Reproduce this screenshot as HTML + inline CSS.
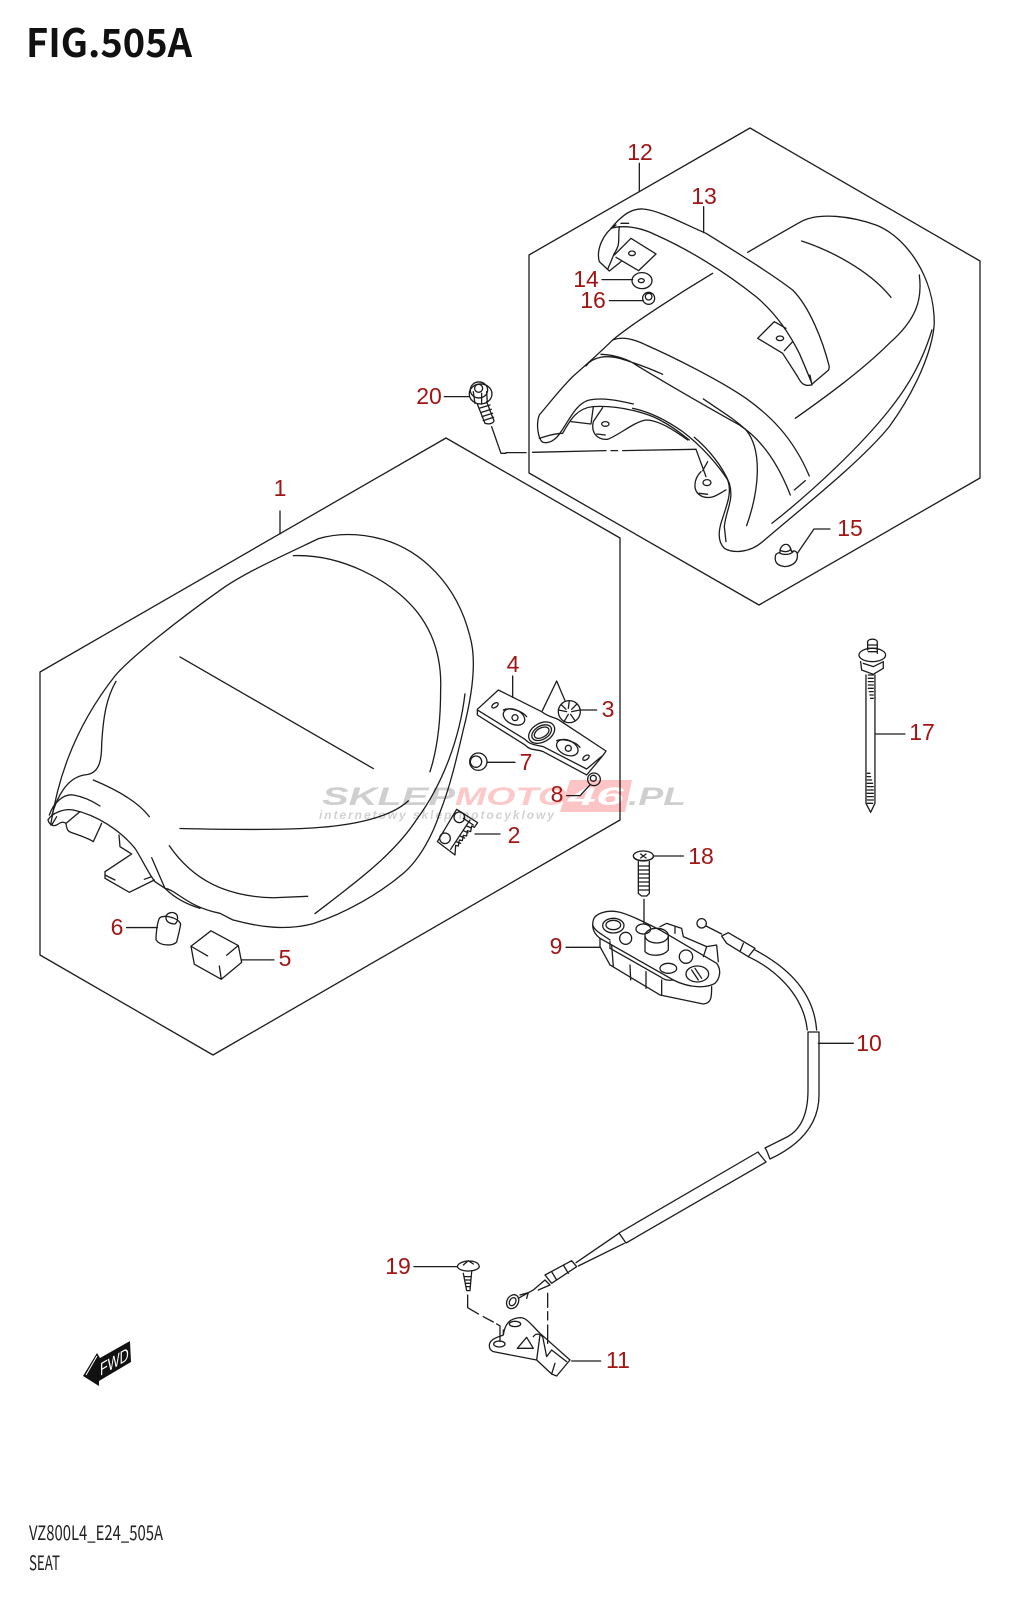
<!DOCTYPE html>
<html><head><meta charset="utf-8"><title>FIG.505A SEAT</title>
<style>
html,body{margin:0;padding:0;background:#fff;width:1012px;height:1600px;overflow:hidden}
svg{display:block}
.l path,.l ellipse,.l circle,.l polygon,.l line{fill:none;stroke:#1c1c1c;stroke-width:1.3;vector-effect:non-scaling-stroke;stroke-linejoin:round;stroke-linecap:round}
.n{font:23px "Liberation Sans",sans-serif;fill:#a31515;text-anchor:middle}
</style></head><body>
<svg width="1012" height="1600" viewBox="0 0 1012 1600" xmlns="http://www.w3.org/2000/svg">
<rect width="1012" height="1600" fill="#fff"/>
<!-- watermark -->
<g font-family="Liberation Sans, sans-serif" font-weight="bold" font-style="italic">
<text x="322" y="805" font-size="25" fill="#cfcfcf" textLength="133" lengthAdjust="spacingAndGlyphs">SKLEP</text>
<text x="455" y="805" font-size="25" fill="#fcc8c8" textLength="112" lengthAdjust="spacingAndGlyphs">MOTO</text>
<polygon points="570,780 632,780 625,812 560,812" fill="#fcc4c4"/>
<text x="568" y="805" font-size="25" fill="#fff" textLength="56" lengthAdjust="spacingAndGlyphs">46</text>
<text x="628" y="805" font-size="25" fill="#cfcfcf" textLength="58" lengthAdjust="spacingAndGlyphs">.PL</text>
<text x="319" y="819" font-size="12" fill="#d2d2d2" textLength="237" letter-spacing="2">internetowy sklep motocyklowy</text>
</g>
<g class="l">
<!-- hexagons -->
<polygon points="750,128 980,261 980,478 759,605 529,473 529,255"/>
<polygon points="446,438 620,538 620,820 213,1055 40,955 40,672"/>
<path d="M280,511V534"/>
<!-- seat 1 -->
<g transform="translate(20,500) scale(.3333,.359)">
<path d="M92,905C110,800 150,650 285,490C330,440 480,330 610,245C680,200 800,150 895,108C960,90 1030,95 1090,110C1200,140 1310,230 1350,380C1372,450 1355,550 1330,640C1310,720 1290,800 1260,870C1240,930 1200,1000 1150,1040C1080,1095 980,1150 880,1180C800,1200 720,1190 640,1170"/>
<path d="M95,880C110,830 140,770 200,765C240,760 245,720 245,680C250,600 260,550 288,505"/>
<path d="M480,437L1060,748M480,915C620,918 800,920 900,912C1000,905 1110,885 1165,838"/>
<path d="M448,963C520,1060 620,1105 760,1108L863,1104"/>
<path d="M885,1152C1000,1070 1120,990 1190,890C1270,790 1320,660 1335,540"/>
<path d="M820,155C960,150 1110,220 1190,310C1250,380 1265,460 1262,530C1262,620 1250,700 1230,757"/>
</g>
<!-- under seat -->
<g transform="translate(40,780) scale(.3333)">
<path d="M24,120C35,100 70,85 100,90C170,105 240,150 285,205C305,235 325,280 345,305L375,325C410,330 440,380 540,400L579,420"/>
<path d="M24,120C28,135 40,140 50,135C65,125 70,125 78,130C80,150 85,155 95,158C130,170 150,178 160,185L185,130M120,95L78,130M35,135L50,110"/>
<path d="M28,105C40,70 70,40 100,45C130,50 160,65 180,78M160,0C220,25 290,60 328,110"/>
<path d="M237,165L240,200L275,222M275,222L195,275V295L268,337L343,300M195,285L225,300M313,298L335,290M335,233L375,325C395,345 430,370 480,385"/>
</g>
<!-- 5 and 6 -->
<g transform="translate(20,497.5) scale(.3333,.359)">
<path d="M418,1172C410,1190 408,1220 408,1232C420,1250 460,1250 470,1238C475,1220 480,1200 482,1188C475,1170 430,1160 418,1172M438,1172C435,1155 465,1150 472,1165C474,1175 472,1183 465,1188C455,1188 440,1185 438,1172"/>
<path d="M320,1198H412"/>
<path d="M513,1250L573,1207L655,1248L665,1295L604,1342L523,1300ZM513,1250L563,1277M655,1248L620,1275M598,1305L604,1342M665,1288H762"/>
</g>
<!-- 2 -->
<g transform="translate(430,800) scale(.3333)">
<path d="M22,125L80,28L143,68L133,82L125,78L122,95L112,92L110,108L100,106L97,122L88,120L85,138L77,136L75,165Z"/>
<path d="M62,148L120,60M100,55L130,75M78,125L92,130M90,108L104,114M100,92L114,98M110,78L124,84"/>
<circle cx="45" cy="115" r="16"/><circle cx="88" cy="52" r="16"/>
<path d="M135,102H210"/>
</g>
<!-- bracket etc -->
<g transform="translate(440,620) scale(.3333)">
<path d="M112,268L175,210L305,275C330,295 345,290 360,302L498,393L490,405L440,465L310,395C285,385 275,395 255,375L112,285ZM112,268V285M112,270L255,358C270,375 290,375 310,380L440,447L490,405"/>
<path d="M218,168V232M307,272L350,183L375,242M420,270H470"/>
<ellipse cx="165" cy="256" rx="11" ry="6" transform="rotate(-35 165 256)"/>
<ellipse cx="438" cy="413" rx="11" ry="6" transform="rotate(-35 438 413)"/>
<ellipse cx="222" cy="291" rx="34" ry="22" transform="rotate(25 222 291)"/><circle cx="225" cy="293" r="9"/>
<path d="M190,270C205,262 245,270 260,290"/>
<ellipse cx="382" cy="383" rx="34" ry="22" transform="rotate(25 382 383)"/><circle cx="385" cy="385" r="9"/>
<path d="M350,362C365,355 405,362 420,382"/>
<ellipse cx="305" cy="338" rx="42" ry="28" transform="rotate(-30 305 338)"/>
<ellipse cx="305" cy="338" rx="32" ry="20" transform="rotate(-30 305 338)"/>
<ellipse cx="305" cy="338" rx="24" ry="14" transform="rotate(-30 305 338)"/>
<circle cx="388" cy="275" r="33"/><path d="M388,242L385,265M420,270L395,275M355,270L380,275M372,305L385,283M405,302L392,283M365,255L378,268M410,253L395,268"/>
<circle cx="115" cy="425" r="26"/><circle cx="108" cy="425" r="17"/><path d="M143,427H225"/>
<circle cx="462" cy="478" r="19"/><circle cx="460" cy="475" r="9"/><path d="M380,527H420L450,495"/>
<!-- 17 -->
<path d="M1283,90V65C1285,55 1310,55 1312,65V100M1285,75H1310M1285,85H1310M1285,95H1310"/>
<ellipse cx="1297" cy="105" rx="40" ry="20"/>
<path d="M1262,125L1265,150L1300,163L1330,145V125M1270,130L1300,140L1330,125M1278,165V550L1292,577L1305,550V165M1308,342H1395"/>
<path d="M1285,165L1300,165M1285,175H1300M1285,185H1300M1285,195H1300M1285,205H1300M1288,215H1300M1290,225H1300M1292,235H1300M1282,460H1290M1282,470H1292M1282,480H1295M1282,490H1298M1282,500H1300M1282,510H1300M1282,520H1300M1282,530H1300M1282,540H1300M1282,550H1298"/>
</g>
<!-- pillion seat -->
<g transform="translate(506,110) scale(.3333)">
<path d="M400,160V245M593,290V368M288,509H380M310,572H412"/>
<path d="M315,355C340,325 370,295 410,297C460,300 540,345 600,370C680,420 780,480 860,540C910,590 950,690 970,770L968,780L915,825C895,830 885,820 875,800L830,730L755,685L805,635L840,655"/>
<path d="M315,355C350,345 400,350 450,375C540,415 650,480 750,560C810,610 850,670 880,730C895,765 910,800 918,822M912,795L918,825"/>
<path d="M330,345C290,370 270,420 280,455L310,483L345,455M340,350C335,390 345,400 325,430L305,478M325,435L375,385L450,432L398,482L330,442M345,340H368M860,695L835,722"/>
<ellipse cx="378" cy="430" rx="10" ry="7"/><ellipse cx="822" cy="685" rx="11" ry="7"/>
<path d="M725,427C780,395 840,360 885,335C940,305 1040,320 1110,345C1200,380 1285,500 1285,640C1280,720 1230,840 1150,950C1060,1060 880,1200 770,1295C730,1330 680,1330 655,1315C640,1300 635,1275 645,1240C660,1190 680,1150 665,1110C640,1070 590,1010 530,965C480,930 430,905 380,895"/>
<path d="M620,490C520,550 380,640 320,690C280,730 240,765 200,800C160,840 130,880 100,915C90,940 95,985 110,997C130,1002 150,990 165,965C190,930 210,880 250,870C290,862 340,872 382,882"/>
<path d="M100,985C120,980 140,970 170,970C195,925 215,895 260,890C340,885 430,910 470,935C500,950 530,975 550,990"/>
<path d="M195,935L255,942L262,890M290,893L262,935C255,965 270,990 305,988C340,975 385,935 420,930C460,930 510,965 545,990M272,972L298,975"/>
<ellipse cx="298" cy="942" rx="11" ry="7"/>
<path d="M585,1085C565,1105 555,1145 590,1160C620,1170 640,1150 660,1140M605,1055L590,1082M580,1150L605,1153M570,1018L600,1100"/>
<ellipse cx="603" cy="1118" rx="12" ry="9"/>
<path d="M565,982C610,1020 650,1070 670,1120C685,1170 660,1200 655,1250L660,1295"/>
<path d="M320,690C345,680 380,685 420,705C500,740 640,810 720,865C790,915 860,980 910,1098"/>
<path d="M240,768C260,740 300,735 340,745C390,760 430,775 470,793M285,733C330,735 370,750 390,765C480,820 620,900 700,945C770,990 820,1070 853,1155"/>
<path d="M592,867C640,900 690,930 720,960C770,1020 760,1140 722,1247M865,1140L898,1112"/>
<path d="M798,1240C900,1160 1080,1000 1180,860C1230,790 1260,720 1278,660"/>
<path d="M868,925C960,860 1070,780 1150,700C1230,630 1250,570 1240,495M887,393C970,420 1090,480 1155,562"/>
<ellipse cx="408" cy="512" rx="30" ry="24"/><ellipse cx="406" cy="512" rx="9" ry="6"/>
<circle cx="428" cy="565" r="18"/><circle cx="428" cy="560" r="10"/>
<path d="M0,1028H60M80,1027L300,1022M315,1022H335M350,1022L570,1018"/>
</g>
<!-- 15 -->
<g transform="translate(760,520) scale(.3333)">
<path d="M47,105C42,125 50,137 75,140C100,137 115,125 112,100C105,90 100,92 95,95M47,105C50,100 55,98 60,97M60,90C65,75 75,70 85,75C95,85 92,90 95,95M60,90V100C70,105 90,105 100,95M62,92C72,96 84,96 93,88M112,100L162,27H210"/>
</g>
<!-- bolt 20 -->
<g transform="scale(.3333)">
<path d="M1333,1190H1408M1475,1280L1503,1360H1518"/>
<ellipse cx="1442" cy="1182" rx="34" ry="30"/><ellipse cx="1437" cy="1170" rx="26" ry="24"/><circle cx="1436" cy="1165" r="12"/>
<path d="M1420,1175L1425,1210M1445,1180L1445,1212M1460,1175L1462,1205M1432,1212L1455,1270C1470,1275 1482,1268 1482,1262L1460,1205M1438,1225L1470,1215M1442,1238L1474,1228M1446,1250L1478,1240M1450,1262L1481,1252"/>
</g>
<!-- lock + cable -->
<g transform="translate(560,830) scale(.3333)">
<path d="M282,78H370M18,352H118M252,208V280"/>
<ellipse cx="250" cy="78" rx="30" ry="15"/><path d="M242,72L258,84M258,72L242,84M222,82C228,95 272,95 280,82M235,95V190L245,198H260L268,190V95M235,108H268M235,120H268M235,132H268M235,144H268M235,156H268M235,168H268M235,180H268"/>
<path d="M100,270C105,250 140,240 170,245C200,250 240,270 300,300L470,400C485,420 480,445 465,460C440,475 390,475 340,450L120,325C100,310 95,290 100,270Z"/>
<path d="M120,325V350L150,405L300,495L430,522C455,520 455,500 455,470M155,345L160,410M210,405L212,450M258,425V475M305,450V495M150,335V355L300,440C320,455 330,450 340,450M98,285C105,305 130,315 150,330"/>
<ellipse cx="160" cy="287" rx="32" ry="22"/><ellipse cx="160" cy="285" rx="22" ry="14"/>
<circle cx="197" cy="325" r="18"/><ellipse cx="250" cy="297" rx="22" ry="15"/>
<path d="M255,318V365C270,380 310,380 325,360V315"/><ellipse cx="290" cy="317" rx="35" ry="22"/>
<circle cx="378" cy="380" r="20"/><ellipse cx="325" cy="415" rx="25" ry="15"/>
<ellipse cx="412" cy="432" rx="34" ry="24"/><path d="M395,420L415,450M405,415L425,445"/>
<path d="M300,290L320,280L365,295L370,320L440,350L470,345L475,395M430,380L440,350M345,290V310"/>
<circle cx="425" cy="280" r="14"/><path d="M438,288L485,312M485,318L505,308L585,355L565,380L500,340ZM550,340L540,365"/>
<path d="M585,360C660,400 760,470 770,600M565,380C640,415 730,490 742,600M775,640H880"/>
</g>
<path d="M808,1032H819M808,1032V1090C808,1115 800,1130 787,1137L765,1148C768,1152 768,1155 770,1159C800,1145 819,1125 819,1095V1032"/>
<path d="M758,1152L619,1233M766,1162L626,1243M758,1152C760,1155 762,1157 766,1162M619,1233L626,1243"/>
<!-- cable end + 11 + 19 -->
<g transform="translate(370,1220) scale(.3333)">
<path d="M132,140H262M605,423H692M293,225V263L325,282M340,290L370,306M380,312L390,318V365M533,220V262M533,275V300M533,315V370"/>
<path d="M262,140C265,120 325,115 328,140C325,155 270,160 262,140M280,135L295,122L310,132M280,160L290,212H300L305,155M282,170H304M284,180H303M286,190H302M288,200H301"/>
<path d="M358,375C360,355 390,350 400,345C405,310 420,295 450,293C470,293 480,310 510,340L600,420L560,468L545,462L500,420L370,395C360,390 358,385 358,375ZM400,345V330M442,385L470,352L490,385ZM490,350C500,335 520,345 520,360L530,410L545,390L590,425M500,420L510,345M545,462L555,430"/>
<ellipse cx="435" cy="312" rx="17" ry="8"/><ellipse cx="388" cy="372" rx="17" ry="9"/>
<ellipse cx="428" cy="245" rx="17" ry="22" transform="rotate(30 428 245)"/><ellipse cx="428" cy="245" rx="9" ry="13" transform="rotate(30 428 245)"/>
<path d="M445,235L490,210M450,225L475,218L470,235M490,210L525,180L540,195L505,210M525,165L605,122L620,140L545,190ZM545,155L560,180M580,135L595,160"/>
<path d="M618,128L747,40M625,138L763,70"/>
</g>
</g>
<!-- labels -->
<text class="n" x="280" y="496">1</text>
<text class="n" x="514" y="843">2</text>
<text class="n" x="608" y="717">3</text>
<text class="n" x="513" y="672">4</text>
<text class="n" x="285" y="966">5</text>
<text class="n" x="117" y="935">6</text>
<text class="n" x="526" y="770">7</text>
<text class="n" x="557" y="802">8</text>
<text class="n" x="556" y="954">9</text>
<text class="n" x="869" y="1051">10</text>
<text class="n" x="618" y="1368">11</text>
<text class="n" x="640" y="160">12</text>
<text class="n" x="704" y="204">13</text>
<text class="n" x="586" y="287">14</text>
<text class="n" x="850" y="536">15</text>
<text class="n" x="593" y="308">16</text>
<text class="n" x="922" y="740">17</text>
<text class="n" x="701" y="864">18</text>
<text class="n" x="398" y="1274">19</text>
<text class="n" x="429" y="404">20</text>
<!-- title -->
<text x="26" y="57" font-family="Noto Sans CJK JP, Liberation Sans, sans-serif" font-weight="700" font-size="39" fill="#111" textLength="166" lengthAdjust="spacingAndGlyphs">FIG.505A</text>
<!-- FWD arrow -->
<path d="M83,1376L97,1353L100,1358L130,1341L131,1362L99,1381V1386Z" fill="#111"/>
<path d="M86,1375L97,1356" stroke="#fff" stroke-width="1" fill="none"/>
<text transform="matrix(.87,-.5,0,1,100,1376)" font-family="Liberation Sans, sans-serif" font-size="18" fill="#fff" textLength="33" lengthAdjust="spacingAndGlyphs">FWD</text>
<!-- footer -->
<text x="29" y="1540" font-family="Noto Sans CJK JP, Liberation Sans, sans-serif" font-size="20" fill="#222" textLength="134" lengthAdjust="spacingAndGlyphs">VZ800L4_E24_505A</text>
<text x="29" y="1570" font-family="Noto Sans CJK JP, Liberation Sans, sans-serif" font-size="20" fill="#222" textLength="31" lengthAdjust="spacingAndGlyphs">SEAT</text>
</svg>
</body></html>
